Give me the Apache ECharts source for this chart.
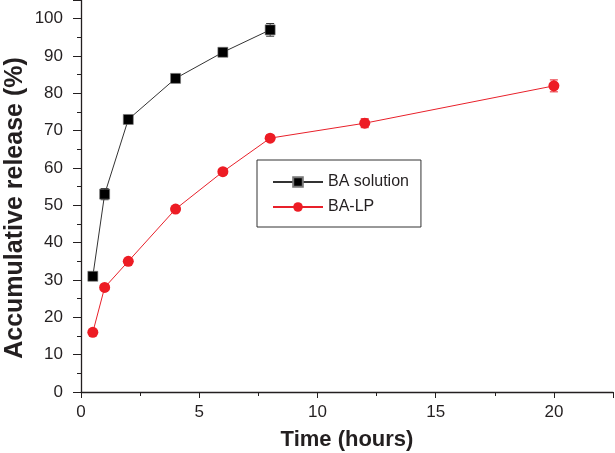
<!DOCTYPE html>
<html><head><meta charset="utf-8">
<script src="https://cdn.jsdelivr.net/npm/echarts@6/dist/echarts.min.js"></script>
<style>html,body{margin:0;padding:0;background:#fff}#c{width:615px;height:453px}</style>
</head><body><div id="c"></div>
<script>
const solTime = [0.5, 1, 2, 4, 6, 8];
const solValues = [31, 53, 73, 84, 91, 97];
const solErr = [0.5, 1.5, 1.0, 0.6, 1.0, 1.7];
const lpTime = [0.5, 1, 2, 4, 6, 8, 12, 20];
const lpValues = [16, 28, 35, 49, 59, 68, 72, 82];
const lpErr = [0.5, 0.5, 0.5, 0.5, 0.8, 0.8, 1.2, 1.6];
const seriesNames = ['BA solution', 'BA-LP'];
const xTitle = 'Time (hours)';
const yTitle = 'Accumulative release (%)';

const chart = echarts.init(document.getElementById('c'), null, {renderer: 'canvas'});
const txt = '#231f20';
const font = 'Liberation Sans, Arial, sans-serif';
function errSeries(times, vals, errs, color) {
  return {
    type: 'custom', silent: true, z: 1,
    data: times.map((t, i) => [t, vals[i] - errs[i], vals[i] + errs[i]]),
    renderItem: function (params, api) {
      const lo = api.coord([api.value(0), api.value(1)]);
      const hi = api.coord([api.value(0), api.value(2)]);
      const w = 4;
      const st = {stroke: color, lineWidth: 1};
      return {type: 'group', children: [
        {type: 'line', shape: {x1: lo[0], y1: lo[1], x2: hi[0], y2: hi[1]}, style: st},
        {type: 'line', shape: {x1: lo[0] - w, y1: lo[1], x2: lo[0] + w, y2: lo[1]}, style: st},
        {type: 'line', shape: {x1: hi[0] - w, y1: hi[1], x2: hi[0] + w, y2: hi[1]}, style: st}
      ]};
    }
  };
}
chart.setOption({
  animation: false,
  textStyle: {fontFamily: font},
  grid: {left: 81, right: 2, top: 0, bottom: 61, containLabel: false},
  graphic: [
    {type: 'text', silent: true, x: 347, y: 440,
     style: {text: xTitle, font: 'bold 22px ' + font, fill: txt, align: 'center', verticalAlign: 'middle'}},
    {type: 'text', silent: true, x: 15, y: 208, rotation: Math.PI / 2,
     style: {text: yTitle, font: 'bold 25px ' + font, fill: txt, align: 'center', verticalAlign: 'middle'}}
  ],
  legend: {
    left: 257, top: 160, orient: 'vertical',
    data: seriesNames,
    itemWidth: 50, itemHeight: 12, itemGap: 9,
    padding: [14, 12, 12, 15],
    borderColor: '#333', borderWidth: 1,
    textStyle: {fontSize: 16, color: txt, fontFamily: font}
  },
  xAxis: {
    type: 'value', min: 0, max: 22.5, interval: 5,
    axisLine: {show: true, onZero: false, lineStyle: {color: '#231f20', width: 1.3}},
    axisTick: {show: true, inside: false, length: 6, lineStyle: {color: '#231f20'}},
    minorTick: {show: true, splitNumber: 2, length: 4, lineStyle: {color: '#231f20'}},
    axisLabel: {fontSize: 17, color: txt, margin: 12, showMaxLabel: false},
    splitLine: {show: false}
  },
  yAxis: {
    type: 'value', min: 0, max: 105, interval: 10,
    axisLine: {show: true, onZero: false, lineStyle: {color: '#231f20', width: 1.3}},
    axisTick: {show: true, inside: false, length: 8, lineStyle: {color: '#231f20'}},
    minorTick: {show: true, splitNumber: 2, length: 4, lineStyle: {color: '#231f20'}},
    axisLabel: {fontSize: 17, color: txt, margin: 18, showMaxLabel: false},
    splitLine: {show: false}
  },
  series: [
    errSeries(solTime, solValues, solErr, '#333'),
    errSeries(lpTime, lpValues, lpErr, '#e8202a'),
    {
      name: seriesNames[0], type: 'line', z: 3,
      data: solTime.map((t, i) => [t, solValues[i]]),
      symbol: 'rect', symbolSize: 10,
      lineStyle: {color: '#333', width: 1},
      itemStyle: {color: '#000', borderColor: '#777', borderWidth: 0.6}
    },
    {
      name: seriesNames[1], type: 'line', z: 3,
      data: lpTime.map((t, i) => [t, lpValues[i]]),
      symbol: 'circle', symbolSize: 11,
      lineStyle: {color: '#e8202a', width: 1},
      itemStyle: {color: '#ed1c24'}
    }
  ]
});
</script></body></html>
